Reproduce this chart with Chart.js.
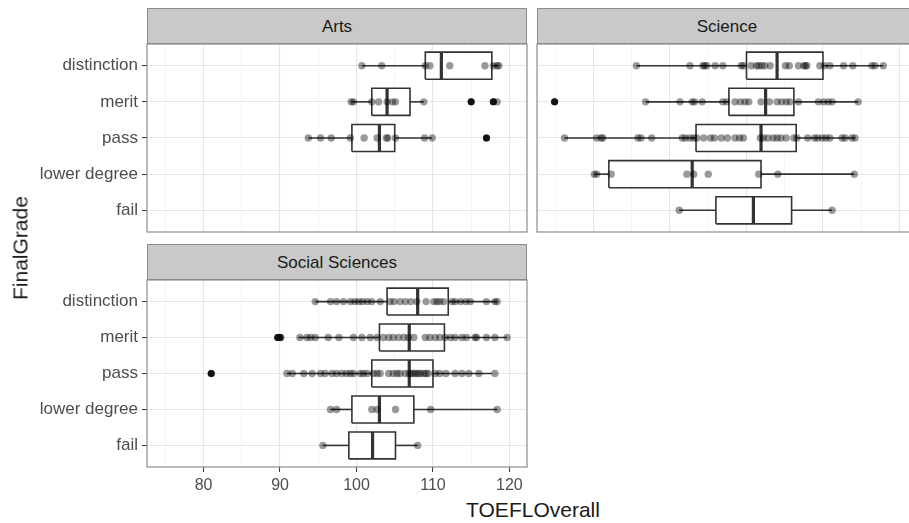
<!DOCTYPE html>
<html>
<head>
<meta charset="utf-8">
<script src="https://cdn.jsdelivr.net/npm/chart.js@4.4.0/dist/chart.umd.min.js"></script>
<style>
  body { margin: 0; background: #fff; }
  #fig { position: relative; width: 909px; height: 523px; overflow: hidden; background: #fff;
         font-family: "Liberation Sans", Arial, sans-serif; }
  .box { position: absolute; }
  .strip { position: absolute; box-sizing: border-box; background: #c9c9c9; border: 1px solid #8c8c8c;
           text-align: center; color: #1a1a1a; font-size: 17px; line-height: 36px; height: 36px; width: 380px; }
  .title { position: absolute; color: #1a1a1a; font-size: 21px; line-height: 21px; white-space: nowrap; }
</style>
</head>
<body>
<div id="fig">
  <div class="strip" style="left:147px; top:8px;">Arts</div>
  <div class="strip" style="left:537px; top:8px;">Science</div>
  <div class="strip" style="left:147px; top:244px;">Social Sciences</div>

  <div class="box" style="left:0; top:43px; width:529px; height:190px;"><canvas id="arts"></canvas></div>
  <div class="box" style="left:536px; top:43px; width:383px; height:190px;"><canvas id="science"></canvas></div>
  <div class="box" style="left:0; top:279px; width:529px; height:218px;"><canvas id="social"></canvas></div>

  <div class="title" style="left:19.5px; top:248px; transform: translate(-50%, -50%) rotate(-90deg);">FinalGrade</div>
  <div class="title" style="left:533px; top:499px; transform: translateX(-50%);">TOEFLOverall</div>
</div>

<script>
// y categories, bottom to top
const grades = ['fail', 'lower degree', 'pass', 'merit', 'distinction'];
const xTickLabels = [80, 90, 100, 110, 120];
const xMinorBreaks = [75, 85, 95, 105, 115];

// boxes: [lower whisker, q1, median, q3, upper whisker], one per grade (null = no data)
const artsBoxes = [
  null,
  null,
  [93.7, 99.4, 103.0, 105.0, 109.9],
  [99.3, 102.0, 104.0, 107.0, 108.8],
  [100.7, 109.0, 111.1, 117.7, 118.6]
];
const artsOutliers = [[], [], [117.0], [115.0, 117.9], []];
const artsPoints = [
  [],
  [],
  [93.7, 95.3, 96.7, 99.2, 101.0, 102.7, 103.9, 104.1, 105.1, 108.9, 109.9, 117.0],
  [99.3, 99.6, 102.0, 102.9, 104.0, 104.7, 105.1, 108.8, 115.0, 117.9, 118.4],
  [100.7, 103.3, 109.0, 109.6, 112.2, 116.8, 117.9, 118.4, 118.6]
];

const scienceBoxes = [
  [91.2, 96.0, 100.9, 105.9, 111.2],
  [80.1, 82.0, 92.9, 101.9, 114.1],
  [76.2, 93.4, 101.9, 106.5, 114.2],
  [86.8, 97.7, 102.5, 106.2, 114.6],
  [85.6, 100.0, 104.0, 110.0, 117.9]
];
const scienceOutliers = [[], [], [], [74.9], []];
const sciencePoints = [
  [91.2, 111.2],
  [80.1, 80.4, 82.3, 92.2, 93.1, 95.0, 101.6, 104.1, 114.1],
  [76.2, 80.4, 81.0, 81.2, 85.8, 86.2, 87.6, 91.6, 92.0, 92.6, 93.1, 93.5, 94.4, 95.3, 95.8,
   96.7, 97.5, 98.5, 99.1, 99.6, 101.8, 102.2, 102.8, 103.5, 104.0, 104.5, 105.2, 106.2, 106.6,
   108.0, 108.9, 109.3, 109.9, 110.4, 110.9, 112.5, 112.9, 113.8, 114.2],
  [74.9, 86.8, 91.3, 92.9, 93.2, 94.2, 96.9, 97.4, 98.5, 99.2, 99.8, 100.3, 101.9, 103.0, 104.0,
   104.6, 105.2, 105.7, 106.8, 109.4, 110.1, 110.7, 111.2, 114.6],
  [85.6, 92.6, 94.3, 94.5, 94.8, 95.9, 96.9, 99.3, 99.6, 100.6, 101.3, 101.6, 102.0, 102.4, 103.1,
   105.1, 105.6, 106.8, 107.5, 107.7, 107.9, 109.6, 110.2, 110.9, 112.7, 113.9, 116.4, 116.8, 117.9]
];

const socialBoxes = [
  [95.6, 99.0, 102.1, 105.1, 108.0],
  [96.6, 99.4, 103.0, 107.5, 118.4],
  [90.9, 102.0, 106.9, 110.0, 117.7],
  [92.4, 103.0, 106.9, 111.5, 119.7],
  [94.6, 104.0, 108.0, 112.0, 118.4]
];
const socialOutliers = [[], [], [81.0], [89.7, 90.0], []];
const socialPoints = [
  [95.6, 108.0],
  [96.6, 97.4, 102.0, 102.7, 105.1, 109.7, 118.4],
  [81.0, 90.9, 91.6, 93.1, 94.2, 95.3, 95.9, 96.8, 97.4, 98.1, 98.7, 99.2, 99.6, 100.5, 100.9,
   101.4, 102.2, 102.7, 103.1, 104.2, 104.8, 105.3, 105.7, 106.4, 106.9, 107.2, 107.5, 107.8,
   108.1, 108.4, 108.8, 109.1, 109.4, 110.3, 110.9, 111.7, 112.9, 113.8, 114.7, 116.0, 118.1],
  [89.7, 90.1, 92.6, 93.5, 94.0, 94.6, 96.3, 97.7, 99.6, 100.7, 101.8, 102.7, 103.5, 104.2, 104.8,
   105.5, 106.2, 106.8, 107.5, 109.0, 109.6, 110.3, 110.9, 111.6, 112.3, 112.9, 113.8, 114.4,
   115.5, 115.7, 117.0, 118.1, 119.7],
  [94.6, 96.6, 97.4, 98.3, 99.2, 99.8, 100.3, 100.8, 101.4, 102.0, 103.1, 104.4, 104.9, 105.7,
   106.4, 107.1, 107.9, 109.1, 110.1, 110.5, 110.9, 111.4, 112.5, 112.9, 113.6, 114.3, 114.9,
   117.0, 118.1, 118.4]
];

const X_MIN = 72.6;
const X_MAX = 122.3;
const BOX_HALF = 0.375;
const LINE = '#333333';

// draws the panel frame around the plot area
const panelBorder = {
  id: 'panelBorder',
  afterDraw(chart) {
    const { ctx, chartArea: a } = chart;
    ctx.save();
    ctx.strokeStyle = '#8c8c8c';
    ctx.lineWidth = 1.2;
    ctx.strokeRect(a.left, a.top, a.right - a.left, a.bottom - a.top);
    ctx.restore();
  }
};

// axis sizes are fixed so the plot areas line up with the strips
function fixSize(s, w, h) {
  if (w !== null) s.width = w;
  if (h !== null) s.height = h;
  s.paddingTop = 0;
  s.paddingBottom = 0;
  s.paddingLeft = 0;
  s.paddingRight = 0;
}

function lineSet(data, width, order, extra) {
  return Object.assign({
    type: 'scatter',
    data: data,
    showLine: true,
    spanGaps: false,
    borderColor: LINE,
    borderWidth: width,
    borderJoinStyle: 'miter',
    pointRadius: 0,
    pointHoverRadius: 0,
    fill: false,
    order: order
  }, extra || {});
}

function buildDatasets(points, boxes, outliers) {
  const sets = [];

  // jittered observations on top
  const jitter = [];
  points.forEach((arr, i) => arr.forEach(v => jitter.push({ x: v, y: i + 1 })));
  sets.push({
    type: 'scatter', data: jitter, pointRadius: 3.7, pointHoverRadius: 3.7,
    backgroundColor: 'rgba(0,0,0,0.4)', borderWidth: 0, order: 0
  });

  const outs = [];
  outliers.forEach((arr, i) => arr.forEach(v => outs.push({ x: v, y: i + 1 })));
  sets.push({
    type: 'scatter', data: outs, pointRadius: 3.5, pointHoverRadius: 3.5,
    backgroundColor: '#1f1f1f', borderWidth: 0, order: 1
  });

  boxes.forEach((b, i) => {
    if (!b) return;
    const r = i + 1;
    const [lo, q1, med, q3, hi] = b;
    sets.push(lineSet([{ x: lo, y: r }, { x: q1, y: r }], 1.6, 4));
    sets.push(lineSet([{ x: q3, y: r }, { x: hi, y: r }], 1.6, 4));
    sets.push(lineSet([
      { x: q1, y: r - BOX_HALF }, { x: q3, y: r - BOX_HALF },
      { x: q3, y: r + BOX_HALF }, { x: q1, y: r + BOX_HALF },
      { x: q1, y: r - BOX_HALF }
    ], 1.6, 3, { fill: 'shape', backgroundColor: '#ffffff' }));
    sets.push(lineSet([{ x: med, y: r - BOX_HALF }, { x: med, y: r + BOX_HALF }], 3.2, 2));
  });
  return sets;
}

function makePanel(id, points, boxes, outliers, showY, showX, padding) {
  const gridX = xMinorBreaks.concat(xTickLabels).sort((a, b) => a - b);
  return new Chart(document.getElementById(id), {
    type: 'scatter',
    data: { datasets: buildDatasets(points, boxes, outliers) },
    plugins: [panelBorder],
    options: {
      responsive: true,
      maintainAspectRatio: false,
      animation: false,
      events: [],
      layout: { padding: padding, autoPadding: false },
      plugins: { legend: { display: false }, tooltip: { enabled: false } },
      scales: {
        x: {
          type: 'linear',
          min: X_MIN,
          max: X_MAX,
          afterBuildTicks: s => { s.ticks = gridX.map(v => ({ value: v })); },
          afterFit: s => fixSize(s, null, showX ? 30 : 0),
          border: { display: false },
          grid: {
            color: c => (xTickLabels.includes(c.tick.value) ? '#e6e6e6' : '#f3f3f3'),
            lineWidth: c => (xTickLabels.includes(c.tick.value) ? 1.1 : 0.8),
            drawTicks: showX,
            tickLength: 5,
            tickColor: c => (xTickLabels.includes(c.tick.value) ? LINE : 'rgba(0,0,0,0)'),
            tickWidth: 1
          },
          ticks: {
            display: showX,
            autoSkip: false,
            maxRotation: 0,
            padding: 4,
            color: '#4d4d4d',
            font: { family: '"Liberation Sans", Arial, sans-serif', size: 16 },
            callback: v => (xTickLabels.includes(v) ? String(v) : '')
          }
        },
        y: {
          type: 'linear',
          min: 0.4,
          max: 5.6,
          afterBuildTicks: s => { s.ticks = grades.map((g, i) => ({ value: i + 1 })); },
          afterFit: s => fixSize(s, showY ? 147 : 0, null),
          border: { display: false },
          grid: {
            color: '#e6e6e6',
            lineWidth: 1.1,
            drawTicks: showY,
            tickLength: 5,
            tickColor: LINE,
            tickWidth: 1
          },
          ticks: {
            display: showY,
            autoSkip: false,
            padding: 4,
            color: '#4d4d4d',
            font: { family: '"Liberation Sans", Arial, sans-serif', size: 17 },
            callback: v => grades[v - 1] || ''
          }
        }
      }
    }
  });
}

makePanel('arts', artsPoints, artsBoxes, artsOutliers, true, false,
  { left: 0, right: 2, top: 1, bottom: 1 });
makePanel('science', sciencePoints, scienceBoxes, scienceOutliers, false, false,
  { left: 1, right: 2, top: 1, bottom: 1 });
makePanel('social', socialPoints, socialBoxes, socialOutliers, true, true,
  { left: 0, right: 2, top: 1, bottom: 0 });
</script>
</body>
</html>
